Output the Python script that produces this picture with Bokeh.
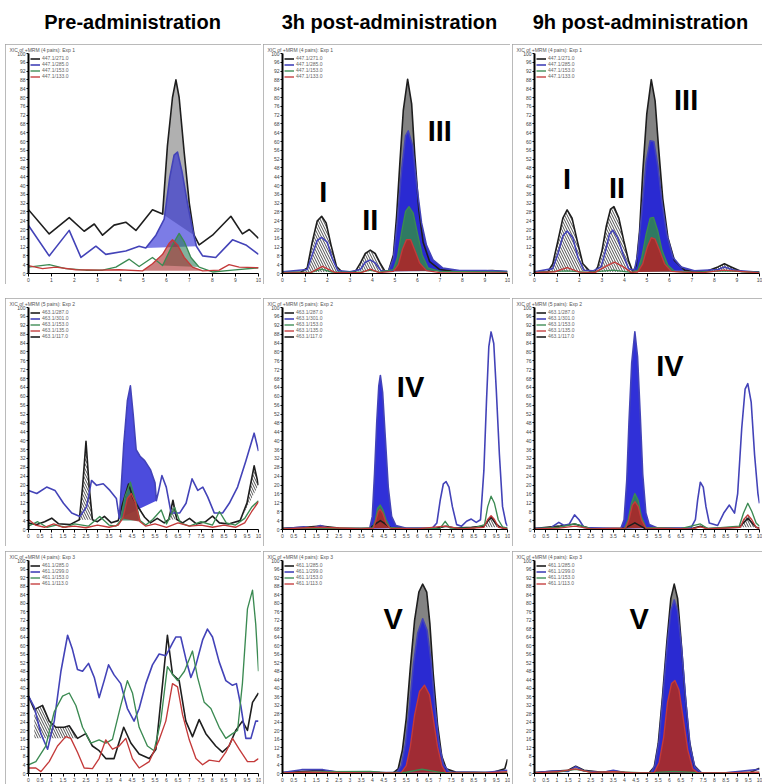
from bokeh.plotting import figure
from bokeh.layouts import column, row
from bokeh.models import Range1d, SingleIntervalTicker, Legend, LegendItem, Spacer
from bokeh.embed import file_html
from bokeh.resources import INLINE
from bokeh.core.properties import value

# ---------------- text ----------------
COLUMN_TITLES = ["Pre-administration", "3h post-administration", "9h post-administration"]
ROW_CAPTIONS = ["XIC of +MRM (4 pairs): Exp 1", "XIC of +MRM (5 pairs): Exp 2", "XIC of +MRM (4 pairs): Exp 3"]
LEGEND_ROW1 = ["447.1/271.0", "447.1/285.0", "447.1/153.0", "447.1/133.0"]
LEGEND_ROW2 = ["463.1/287.0", "463.1/301.0", "463.1/153.0", "463.1/135.0", "463.1/117.0"]
LEGEND_ROW3 = ["461.1/285.0", "461.1/299.0", "461.1/153.0", "461.1/113.0"]

# ---------------- data: retention time (t) / intensity (i) ----------------
r1c1_black_t = [0.0,0.9,1.77,2.42,2.86,3.22,3.72,4.23,4.67,5.39,5.83,6.04,6.26,6.41,6.55,6.77,6.99,7.2,7.42,8.0,8.8,9.3,9.6,10.0]
r1c1_black_i = [29,18,25.4,19.2,22.5,17.4,22,23.3,19.6,29,27,58,80,88,80,55,32,17.4,13,17.4,26,18,20,16]
r1c1_blue_t = [0.0,0.9,1.77,2.28,2.93,3.36,4.23,4.81,5.1,5.54,5.9,6.14,6.33,6.48,6.67,6.91,7.13,7.3,7.57,8.14,8.87,9.45,10.0]
r1c1_blue_i = [21.8,8,19.6,7.3,12.4,8.7,10.2,12.4,11.6,17.4,24.7,43.6,53.8,55.2,46.5,32,20.3,12.4,8,7.3,15.3,13,8.7]
r1c1_green_t = [0.0,0.9,1.62,2.49,3.22,3.8,4.38,4.81,5.39,5.83,6.26,6.55,6.77,7.06,7.42,8.0,8.87,10.0]
r1c1_green_i = [2.9,4,2.2,1.5,1.5,2.9,6.5,3.2,7.3,3.6,13,18.2,14.5,7.3,2.9,0.7,1.5,2.6]
r1c1_red_t = [0.0,0.61,1.19,2.06,3.07,3.94,4.96,5.39,5.83,6.12,6.26,6.48,6.77,7.13,7.57,8.29,8.72,9.16,10.0]
r1c1_red_i = [3.6,2.2,2.9,1.7,1.5,1.7,1.2,4.4,8.7,13.8,15.3,13,7.3,2.9,1.2,1.5,4,2.9,2.6]

r1c2_black_t = [0.0,0.81,1.1,1.32,1.54,1.74,1.94,2.16,2.4,2.65,2.94,3.24,3.46,3.68,3.9,4.12,4.34,4.56,4.71,4.93,5.07,5.22,5.37,5.56,5.74,5.88,6.06,6.25,6.54,6.99,7.57,8.6,9.34,10.0]
r1c2_black_i = [0.6,0.6,2.5,14.2,23.8,26,23,12.8,3.2,0.7,0.6,1,4.7,9.1,10.6,9.1,4.7,1,1,8.4,26,50.9,74.3,88.3,77.1,53.8,28.9,14.2,5.4,1.8,1,1,1.3,0.7]
r1c2_blue_t = [0.0,1.1,1.32,1.54,1.74,1.99,2.21,2.46,3.0,3.46,3.68,3.9,4.12,4.37,4.71,4.93,5.1,5.29,5.47,5.59,5.78,5.96,6.18,6.4,6.69,7.13,7.87,9.04,10.0]
r1c2_blue_i = [0.8,1.8,8.4,15,16.4,14.2,6.9,1.3,0.8,1.8,5.1,6.2,4.8,1.3,1,6.9,23,46.5,62.6,64.8,58.2,40.6,23,12.8,6.2,2.5,1.3,1.3,1]
r1c2_green_t = [0.0,1.3,1.74,2.2,3.5,3.9,4.3,4.93,5.1,5.29,5.47,5.62,5.81,5.99,6.21,6.47,6.99,10.0]
r1c2_green_i = [0.5,0.6,2.0,0.6,0.6,1.5,0.6,1.8,6.9,18.6,28.2,30.4,27.4,18.6,8.4,2.5,1,0.6]
r1c2_red_t = [0.0,1.25,1.77,2.35,3.5,3.9,4.3,4.93,5.15,5.34,5.51,5.69,5.88,6.1,6.4,7.0,10.0]
r1c2_red_i = [0.3,0.4,3.2,0.4,0.4,2.0,0.4,1,4,11.3,15.4,15.4,10.6,4.7,1.3,0.4,0.3]

r1c3_black_t = [0.0,0.59,0.81,1.04,1.26,1.45,1.67,1.9,2.15,2.44,2.67,2.81,3.0,3.19,3.38,3.53,3.75,3.97,4.18,4.37,4.52,4.67,4.81,4.99,5.19,5.36,5.51,5.7,5.93,6.22,6.67,7.56,8.15,8.44,8.74,9.19,10.0]
r1c3_black_i = [0.7,0.7,4.4,14.8,25.2,28.9,25.2,14.8,4.4,1.2,0.7,3,10.4,21.5,29.3,30.4,25.2,14.8,5.9,0.7,3.7,19.3,45.9,72.6,88.1,78.5,57.8,34.1,16.3,5.9,1.5,0.7,3,4.4,3,0.9,0.7]
r1c3_blue_t = [0.0,0.81,1.04,1.26,1.45,1.7,1.93,2.19,2.6,2.96,3.16,3.33,3.48,3.7,3.93,4.18,4.44,4.59,4.77,4.96,5.14,5.3,5.48,5.66,5.88,6.15,6.52,7.11,8.15,8.44,8.89,10.0]
r1c3_blue_i = [0.8,2.2,8.9,17,19.3,16.3,7.4,1.5,1.2,3,10.4,17.8,19.7,16.3,8.9,2.2,1.5,8.9,28.1,50.4,60.3,60,48.9,32.6,17.8,7.4,3,1.2,1.8,3,1.5,0.6]
r1c3_green_t = [0.0,1.45,2.4,3.5,4.3,4.59,4.77,4.96,5.14,5.29,5.48,5.67,5.93,6.22,7.0,8.44,10.0]
r1c3_green_i = [0.5,1.2,0.5,1.5,0.5,1.5,7.4,17.8,25.2,25.5,19.3,10.4,3.7,1,0.5,1.2,0.5]
r1c3_red_t = [0.0,0.9,1.45,2.0,2.7,3.2,3.55,3.95,4.3,4.59,4.81,5.01,5.19,5.36,5.56,5.78,6.07,6.6,7.5,8.4,10.0]
r1c3_red_i = [0.4,0.8,2.7,0.6,0.5,3.5,5.2,3.0,0.5,0.7,4.4,11.9,16.3,15.6,10.4,4.4,1,0.6,0.4,1.5,0.3]

r2c1_black_t = [0.0,0.36,0.7,1.01,1.3,1.8,2.21,2.35,2.5,2.64,2.78,3.0,3.3,3.6,3.9,4.1,4.35,4.55,4.8,5.05,5.3,5.6,5.9,6.1,6.28,6.45,6.7,7.0,7.3,7.7,8.0,8.3,8.7,9.2,9.5,9.81,10.0]
r2c1_black_i = [2.9,2.2,3.5,5.1,2.6,2.2,4.4,19.1,39.7,19.1,4.4,3.5,5.9,3.0,4.0,12,20.5,14,9.5,5.5,3,5,3,4.5,13.2,4.5,3.0,5.0,2.5,3.5,6.0,3.0,2.5,4.0,12,28.7,20]
r2c1_blue_t = [0.0,0.36,0.79,1.15,1.52,1.88,2.24,2.53,2.74,2.96,3.25,3.54,3.82,3.95,4.14,4.3,4.43,4.55,4.68,4.85,5.05,5.3,5.5,5.56,5.65,5.8,5.99,6.2,6.57,6.85,7.11,7.36,7.58,7.79,8.08,8.44,8.73,9.09,9.45,9.81,10.0]
r2c1_blue_i = [17.6,16.2,19.1,17.6,11.8,7.4,5.9,10.3,22.1,19.9,20.6,17.6,14,5,38,58,64.7,52,36,33,31,27,21,13,17,24.3,19.1,7.4,7.4,11.8,22.8,17.6,19.1,14.7,7.4,7.4,11.8,19.1,30.9,43.4,35.3]
r2c1_green_t = [0.0,0.4,0.8,1.2,1.6,2.0,2.6,3.1,3.5,3.8,4.0,4.2,4.43,4.6,4.85,5.1,5.4,5.77,6.0,6.35,6.6,7.0,7.5,8.0,8.3,8.6,9.0,9.4,9.7,10.0]
r2c1_green_i = [1.5,3.5,1.0,2.0,1.0,2.5,1.5,5.9,2.0,1.5,4.0,15,21.3,15,4.0,2.0,4.5,8.8,2.5,10,3.0,1.5,3.5,2.0,8.1,3.0,2.0,5.0,10,13]
r2c1_red_t = [0.0,0.3,0.7,1.1,1.5,2.0,2.5,3.0,3.5,3.9,4.1,4.3,4.47,4.65,4.85,5.1,5.5,6.0,6.5,7.0,7.5,8.0,8.5,9.0,9.4,9.7,10.0]
r2c1_red_i = [4.5,2.0,1.0,2.5,1.0,1.5,0.8,2.0,1.0,2.0,5,14,16.2,12,3.5,1.5,2.5,1.0,3.0,1.5,2.0,1.0,2.0,1.0,3.0,8,12.5]

r2c2_black_t = [0.0,1.0,1.7,2.5,3.87,4.0,4.2,4.35,4.5,4.7,4.85,5.0,6.8,7.27,7.7,8.4,8.95,9.1,9.27,9.45,9.65,9.85,10.0]
r2c2_black_i = [0.5,1.0,1.5,0.6,0.5,1.5,3,4,3,1.5,0.6,0.5,0.5,1.5,0.6,1.0,1.5,3.5,5.5,3,1.2,0.5,0.5]
r2c2_blue_t = [0.0,0.95,1.3,1.68,2.1,3.87,3.99,4.09,4.19,4.28,4.35,4.45,4.57,4.7,4.85,5.04,5.47,6.64,6.86,7.01,7.15,7.27,7.4,7.55,7.74,7.96,8.18,8.39,8.61,8.8,8.95,9.07,9.17,9.27,9.39,9.5,9.64,9.78,9.93,10.0]
r2c2_blue_i = [0.3,1.2,0.5,1.8,0.4,0.3,5.9,25,48.5,64.7,69.4,61.8,41.2,19.1,5.9,1.8,0.7,0.4,2.9,13.2,20.6,21.6,19.1,10.3,2.2,1.5,3.7,4.7,3.2,4.4,26.5,58.8,82.4,89,83.8,63.2,33.8,10.3,2.9,1.5]
r2c2_green_t = [0.0,2.0,3.5,4.01,4.13,4.23,4.34,4.45,4.6,4.77,5.5,7.0,7.23,7.45,8.5,8.98,9.12,9.27,9.42,9.59,9.78,10.0]
r2c2_green_i = [0.4,0.6,0.4,0.7,4.4,9.6,11,9.1,4.4,0.9,0.4,0.5,3.7,0.6,0.6,2.2,10.3,15,11.8,4.4,1.2,0.6]
r2c2_red_t = [0.0,1.1,1.7,3.5,4.04,4.16,4.26,4.34,4.45,4.6,4.77,6.0,7.2,8.0,8.95,9.12,9.27,9.42,9.6,10.0]
r2c2_red_i = [0.3,0.8,1.0,0.3,0.6,4.4,8.1,9.1,7.4,2.9,0.6,0.3,1.5,0.3,1.0,4.5,6.2,4.5,1.0,0.3]

r2c3_black_t = [0.0,1.08,1.78,2.5,4.0,4.46,4.9,7.0,7.37,7.7,9.1,9.48,9.85,10.0]
r2c3_black_i = [0.4,1.5,2.5,0.4,0.5,3.0,0.5,0.4,1.5,0.4,1.0,5.0,1.0,0.6]
r2c3_blue_t = [0.0,0.71,1.08,1.31,1.55,1.78,1.98,2.2,3.83,3.98,4.1,4.2,4.32,4.46,4.58,4.7,4.81,4.95,5.1,5.47,6.95,7.15,7.25,7.37,7.5,7.62,7.77,8.14,8.41,8.66,8.89,9.03,9.21,9.36,9.48,9.63,9.78,9.93,10.0]
r2c3_blue_i = [0.5,0.7,3.2,1.8,2.5,6.6,4.4,0.9,0.3,4.4,22,48.5,75,89,77.9,51.5,25,7.4,2.2,0.7,0.6,4.4,13.2,21.3,19.1,10.3,2.9,1.8,7.4,11,7.4,16.2,45.6,63.2,65.7,57.4,33.8,16.2,11.8]
r2c3_green_t = [0.0,1.1,1.8,2.5,4.0,4.16,4.31,4.46,4.61,4.75,4.95,6.5,7.37,7.7,9.1,9.29,9.48,9.66,9.85,10.0]
r2c3_green_i = [0.4,1.0,2.5,0.4,0.4,4.4,11.8,16.2,13.2,5.9,0.9,0.4,2.5,0.4,1.5,7.4,11.8,8.1,2.9,1.5]
r2c3_red_t = [0.0,1.1,1.8,2.5,4.05,4.2,4.35,4.47,4.61,4.75,4.95,7.0,7.37,7.7,9.15,9.3,9.48,9.65,9.85,10.0]
r2c3_red_i = [0.3,0.6,1.5,0.3,0.6,4.4,11,12.5,10.3,4.4,0.6,0.3,1.2,0.3,1.0,4.5,6.6,4.5,1.0,0.5]

r3c1_black_t = [0.0,0.25,0.61,0.9,1.19,1.55,1.77,2.13,2.49,2.78,3.07,3.36,3.72,4.14,4.45,4.81,5.25,5.54,5.83,6.04,6.26,6.55,6.84,7.13,7.42,7.71,8.14,8.43,8.72,9.01,9.3,9.52,9.74,10.0]
r3c1_black_i = [36.3,30,32,24.6,21.7,21.7,22.4,16.5,18.7,12.9,10.7,7,7,21.7,14.3,9.2,7,11.4,42.2,64.9,46.6,43.6,24.6,17.3,25.3,18.7,12.9,10,12.9,20.2,24.6,20.2,33.4,37.8]
r3c1_blue_t = [0.0,0.25,0.54,0.83,1.12,1.41,1.7,1.91,2.13,2.35,2.61,2.86,3.07,3.29,3.48,3.72,4.01,4.3,4.59,4.81,5.1,5.39,5.68,5.97,6.12,6.26,6.41,6.62,6.84,7.06,7.28,7.57,7.78,8.0,8.29,8.58,8.87,9.04,9.23,9.45,9.67,9.88,10.0]
r3c1_blue_i = [36.3,31.2,18.7,11.4,24.6,48,64.9,58.3,48.8,48,51.7,45.1,35.6,43.6,51,46.3,42.2,30.5,24.6,30.5,42.2,51,56.1,55.3,58.3,61.2,64.1,64.1,53.9,45.1,51,62.7,67.8,64.1,52.4,43.6,41.4,42.2,31.9,16.5,16.5,24.6,24.6]
r3c1_green_t = [0.0,0.32,0.75,1.12,1.48,1.77,2.06,2.35,2.71,3.07,3.36,3.65,4.01,4.3,4.52,4.81,5.17,5.46,5.75,6.04,6.26,6.48,6.78,7.13,7.35,7.64,7.93,8.29,8.58,8.87,9.09,9.3,9.52,9.74,9.88,10.0]
r3c1_green_i = [4.1,5.6,12.9,29,36.3,37.8,31.9,21.7,14.3,15.8,14.3,16,31.9,43.6,37.8,21.7,12.9,10.7,24.6,50.2,46.6,43.6,48,57.5,45.1,33.4,30.5,21.7,16.5,18.7,20.2,42.2,77.3,86.1,70,48]
r3c1_red_t = [0.0,0.32,0.54,0.9,1.26,1.62,1.84,2.13,2.42,2.78,3.07,3.36,3.65,3.94,4.23,4.52,4.81,5.25,5.68,5.97,6.26,6.48,6.7,6.99,7.28,7.57,7.86,8.29,8.58,8.87,9.16,9.52,9.81,10.0]
r3c1_red_i = [2.6,2.6,0.9,5.6,12.9,17.3,16.5,10,2.6,2.3,7,15.8,11.4,12.9,16.5,7,2.6,5.6,15.8,24.6,42.2,40.7,27.5,15.8,7,4.1,6.3,5.6,10,16.5,11.4,5.6,5.6,7]

r3c2_black_t = [0.0,0.98,1.71,2.58,3.75,4.34,4.92,5.14,5.33,5.5,5.68,5.87,6.06,6.23,6.41,6.55,6.7,6.89,7.08,7.28,7.69,9.3,9.88,10.0]
r3c2_black_i = [0.4,1,1.5,0.4,0.7,0.4,0.3,2.2,11.1,25.9,49.6,71.9,85.2,88.9,85.2,70.4,46.7,23,8.1,2.2,0.7,0.4,2.2,6.7]
r3c2_blue_t = [0.0,0.85,1.8,2.6,4.0,5.07,5.28,5.47,5.65,5.82,6.01,6.23,6.42,6.6,6.77,6.96,7.15,7.4,9.0,10.0]
r3c2_blue_i = [0.4,1.8,1.8,0.4,0.5,0.4,3.7,14.1,31.9,51.1,65.9,72.6,67.4,52.6,31.9,14.1,4.4,0.7,0.4,1.5]
r3c2_green_t = [0.0,1.8,3.9,4.6,5.5,6.2,7.0,10.0]
r3c2_green_i = [0.3,0.8,1.0,0.4,0.6,2.0,0.5,0.4]
r3c2_red_t = [0.0,1.0,2.0,3.9,5.28,5.5,5.68,5.87,6.09,6.31,6.53,6.7,6.89,7.08,7.26,9.0,10.0]
r3c2_red_i = [0.3,0.6,0.5,0.3,0.4,3.7,12.6,27.4,38.5,41.5,37,25.9,12.6,3.7,0.4,0.3,0.8]

r3c3_black_t = [0.0,0.8,1.5,1.83,2.2,3.0,3.5,4.0,5.1,5.32,5.5,5.69,5.88,6.06,6.21,6.36,6.51,6.69,6.88,7.1,7.4,8.5,9.6,10.0]
r3c3_black_i = [0.4,1.0,1.5,3.4,1.5,0.6,1.2,0.4,0.3,3,14.1,36.3,61.5,82.2,88.9,82.2,63,37.8,15.6,3.7,0.4,0.3,0.6,2.5]
r3c3_blue_t = [0.0,0.8,1.5,1.83,2.2,3.0,3.5,4.0,5.17,5.35,5.54,5.72,5.91,6.06,6.21,6.36,6.54,6.73,6.92,7.13,7.4,8.5,10.0]
r3c3_blue_i = [0.3,1.2,1.0,3.2,1.2,0.5,1.5,0.4,0.3,3.7,15.6,37.8,61.5,76.3,81.5,76.3,58.5,33.3,12.6,3,0.4,0.3,2.0]
r3c3_green_t = [0.0,1.0,1.83,2.6,3.5,5.0,6.2,7.5,10.0]
r3c3_green_i = [0.3,0.6,2.0,0.4,0.9,0.3,1.0,0.3,0.5]
r3c3_red_t = [0.0,1.0,1.83,2.5,3.5,4.5,5.32,5.54,5.74,5.91,6.09,6.24,6.42,6.61,6.81,7.03,7.25,8.5,10.0]
r3c3_red_i = [0.3,0.8,2.2,0.5,0.8,0.3,0.4,5.2,17,33.3,42.2,43.7,39.3,25.9,11.1,2.2,0.4,0.3,0.6]

# ---------------- styling ----------------
LINE = {"black": "#1e1e1e", "blue": "#4343b8", "green": "#3b8a52", "red": "#c43a3a"}
LINE_W = {"black": 1.6, "blue": 1.6, "green": 1.35, "red": 1.35}
FILL = {"black": "#7c7c7c", "blue": "#2525d6", "green": "#2f7e5c", "red": "#a72b2b"}
ORDER = ["black", "blue", "green", "red"]
LABEL_FONT = value("Liberation Sans")


def ser(b, bl, g, r):
    return {"black": b, "blue": bl, "green": g, "red": r}


PANELS = {
    (0, 0): dict(series=ser((r1c1_black_t, r1c1_black_i), (r1c1_blue_t, r1c1_blue_i), (r1c1_green_t, r1c1_green_i), (r1c1_red_t, r1c1_red_i)),
                 solid=[("black", 5.83, 7.2), ("blue", 5.1, 7.3), ("green", 5.83, 7.42), ("red", 4.96, 7.57)],
                 hatch=[], alpha=0.6, labels=[]),
    (0, 1): dict(series=ser((r1c2_black_t, r1c2_black_i), (r1c2_blue_t, r1c2_blue_i), (r1c2_green_t, r1c2_green_i), (r1c2_red_t, r1c2_red_i)),
                 solid=[("black", 4.71, 7.57), ("blue", 4.71, 7.87), ("green", 4.93, 6.99), ("red", 4.93, 6.4)],
                 hatch=[("black", 0.81, 2.65, None), ("black", 3.24, 4.56, None)], alpha=0.95,
                 labels=[(1.81, 37, "I"), (3.9, 24.5, "II"), (6.99, 64.8, "III")]),
    (0, 2): dict(series=ser((r1c3_black_t, r1c3_black_i), (r1c3_blue_t, r1c3_blue_i), (r1c3_green_t, r1c3_green_i), (r1c3_red_t, r1c3_red_i)),
                 solid=[("black", 4.37, 7.56), ("blue", 4.44, 7.11), ("green", 4.59, 6.22), ("red", 4.59, 6.07)],
                 hatch=[("black", 0.59, 2.44, None), ("black", 2.67, 4.37, None), ("black", 7.56, 9.19, None)], alpha=0.95,
                 labels=[(1.45, 43, "I"), (3.67, 39, "II"), (6.74, 79, "III")]),
    (1, 0): dict(series=ser((r2c1_black_t, r2c1_black_i), (r2c1_blue_t, r2c1_blue_i), (r2c1_green_t, r2c1_green_i), (r2c1_red_t, r2c1_red_i)),
                 solid=[("blue", 3.95, 5.56), ("green", 4.0, 4.85), ("red", 4.1, 4.85)],
                 hatch=[("black", 2.21, 2.78, None), ("black", 4.35, 5.05, None), ("black", 6.1, 6.45, None), ("black", 9.2, 10.0, None)],
                 alpha=0.82, labels=[]),
    (1, 1): dict(series=ser((r2c2_black_t, r2c2_black_i), (r2c2_blue_t, r2c2_blue_i), (r2c2_green_t, r2c2_green_i), (r2c2_red_t, r2c2_red_i)),
                 solid=[("blue", 3.87, 5.47), ("green", 4.01, 4.77), ("red", 4.04, 4.77)],
                 hatch=[("red", 8.95, 9.6, None)], alpha=0.95, labels=[(5.69, 64, "IV")]),
    (1, 2): dict(series=ser((r2c3_black_t, r2c3_black_i), (r2c3_blue_t, r2c3_blue_i), (r2c3_green_t, r2c3_green_i), (r2c3_red_t, r2c3_red_i)),
                 solid=[("blue", 3.83, 5.47), ("green", 4.0, 4.95), ("red", 4.05, 4.95)],
                 hatch=[("red", 9.15, 9.85, None)], alpha=0.95, labels=[(6.02, 73.5, "IV")]),
    (2, 0): dict(series=ser((r3c1_black_t, r3c1_black_i), (r3c1_blue_t, r3c1_blue_i), (r3c1_green_t, r3c1_green_i), (r3c1_red_t, r3c1_red_i)),
                 solid=[], hatch=[("black", 0.25, 2.13, 16.5)], alpha=0.9, labels=[]),
    (2, 1): dict(series=ser((r3c2_black_t, r3c2_black_i), (r3c2_blue_t, r3c2_blue_i), (r3c2_green_t, r3c2_green_i), (r3c2_red_t, r3c2_red_i)),
                 solid=[("black", 4.92, 7.69), ("blue", 5.07, 7.4), ("red", 5.28, 7.26)],
                 hatch=[], alpha=0.95, labels=[(4.92, 72.6, "V")]),
    (2, 2): dict(series=ser((r3c3_black_t, r3c3_black_i), (r3c3_blue_t, r3c3_blue_i), (r3c3_green_t, r3c3_green_i), (r3c3_red_t, r3c3_red_i)),
                 solid=[("black", 5.1, 7.4), ("blue", 5.17, 7.4), ("red", 5.32, 7.25)],
                 hatch=[], alpha=0.95, labels=[(4.65, 72.6, "V")]),
}

COL_W = [256, 247, 250]
COL_LEFT = [23, 19, 22]
ROW_H = [240, 248, 233]
ROW_BOTTOM = [11, 17, 6]
ROW_XTICK = [1.0, 0.5, 0.5]
ROW_LEGEND = [LEGEND_ROW1, LEGEND_ROW2, LEGEND_ROW3]


def seg(t, v, a, b):
    xs, ys = [], []
    for tt, vv in zip(t, v):
        if a - 1e-9 <= tt <= b + 1e-9:
            xs.append(tt)
            ys.append(vv)
    return xs, ys


def make_panel(r, c):
    spec = PANELS[(r, c)]
    p = figure(width=COL_W[c], height=ROW_H[r], x_range=Range1d(0, 10), y_range=Range1d(0, 100),
               output_backend="svg", toolbar_location=None,
               min_border_left=COL_LEFT[c], min_border_right=3, min_border_top=2,
               min_border_bottom=ROW_BOTTOM[r], outline_line_color=None,
               background_fill_color="white", border_fill_color="white",
               title=ROW_CAPTIONS[r],
               styles={"outline": "1px solid #a3a3a3", "outline-offset": "-1px"})
    p.title.text_font_size = "5px"
    p.title.text_font_style = "normal"
    p.title.text_color = "#555555"
    p.title.standoff = 1
    p.title.offset = -(COL_LEFT[c] - 4)
    p.grid.visible = False

    for ax in p.yaxis:
        ax.ticker = SingleIntervalTicker(interval=4, num_minor_ticks=0)
        ax.axis_line_width = 2
        ax.axis_line_color = "black"
        ax.major_tick_out = 2
        ax.major_tick_in = 0
        ax.minor_tick_line_color = None
        ax.major_label_text_font_size = "5px"
        ax.major_label_standoff = 1
        ax.major_label_text_color = "#444444"
    for ax in p.xaxis:
        ax.ticker = SingleIntervalTicker(interval=ROW_XTICK[r], num_minor_ticks=0)
        ax.axis_line_color = "black"
        ax.major_tick_out = 3
        ax.major_tick_in = 0
        ax.minor_tick_line_color = None
        ax.major_label_text_font_size = "5px"
        ax.major_label_standoff = 1
        ax.major_label_text_color = "#444444"

    series = spec["series"]
    for name, a, b, base in spec["hatch"]:
        t, v = series[name]
        xs, ys = seg(t, v, a, b)
        if base is not None:
            xs = xs + [xs[-1], xs[0]]
            ys = ys + [base, base]
        p.patch(xs, ys, fill_color="white", fill_alpha=0.0, line_color=None,
                hatch_pattern="left_diagonal_line", hatch_color="#222222",
                hatch_scale=5, hatch_weight=0.8)
    for name, a, b in spec["solid"]:
        t, v = series[name]
        xs, ys = seg(t, v, a, b)
        p.patch(xs, ys, fill_color=FILL[name], fill_alpha=spec["alpha"], line_color=None)

    rends = {}
    for name in ORDER:
        t, v = series[name]
        assert len(t) == len(v), (r, c, name, len(t), len(v))
        rends[name] = p.line(t, v, line_color=LINE[name], line_width=LINE_W[name], line_join="round")

    if spec["labels"]:
        lx = [l[0] for l in spec["labels"]]
        ly = [l[1] for l in spec["labels"]]
        lt = [l[2] for l in spec["labels"]]
        p.text(x=lx, y=ly, text=lt, text_font=LABEL_FONT, text_font_style="bold",
               text_font_size="29px", text_align="center", text_baseline="middle",
               text_color="black")

    labels = ROW_LEGEND[r]
    renders = [rends[n] for n in ORDER] + ([rends["black"]] if len(labels) > 4 else [])
    items = [LegendItem(label=lab, renderers=[rd]) for lab, rd in zip(labels, renders)]
    leg = Legend(items=items, location="top_left", label_text_font_size="5px",
                 label_height=5, glyph_height=5, glyph_width=10, spacing=0, padding=1,
                 margin=2, label_standoff=2, border_line_color=None,
                 background_fill_alpha=0.0, label_text_color="#666666")
    p.add_layout(leg)
    return p


# header with the column titles
HEADER_X = [132, 389, 640]
hdr = figure(width=762, height=44, x_range=Range1d(0, 762), y_range=Range1d(0, 44),
             x_axis_type=None, y_axis_type=None, toolbar_location=None,
             output_backend="svg", min_border=0, outline_line_color=None)
hdr.grid.visible = False
hdr.text(x=HEADER_X, y=[23, 23, 23], text=COLUMN_TITLES, text_font=LABEL_FONT,
         text_font_style="bold", text_font_size="20px", text_align="center",
         text_baseline="middle", text_color="black")

rows = []
for r in range(3):
    figs = [make_panel(r, c) for c in range(3)]
    rows.append(row(Spacer(width=5, height=ROW_H[r]), figs[0], Spacer(width=2, height=ROW_H[r]),
                    figs[1], Spacer(width=2, height=ROW_H[r]), figs[2]))

layout = column(hdr, rows[0], Spacer(width=762, height=14), rows[1],
                Spacer(width=762, height=5), rows[2])

open("out.html", "w").write(file_html(layout, INLINE))
